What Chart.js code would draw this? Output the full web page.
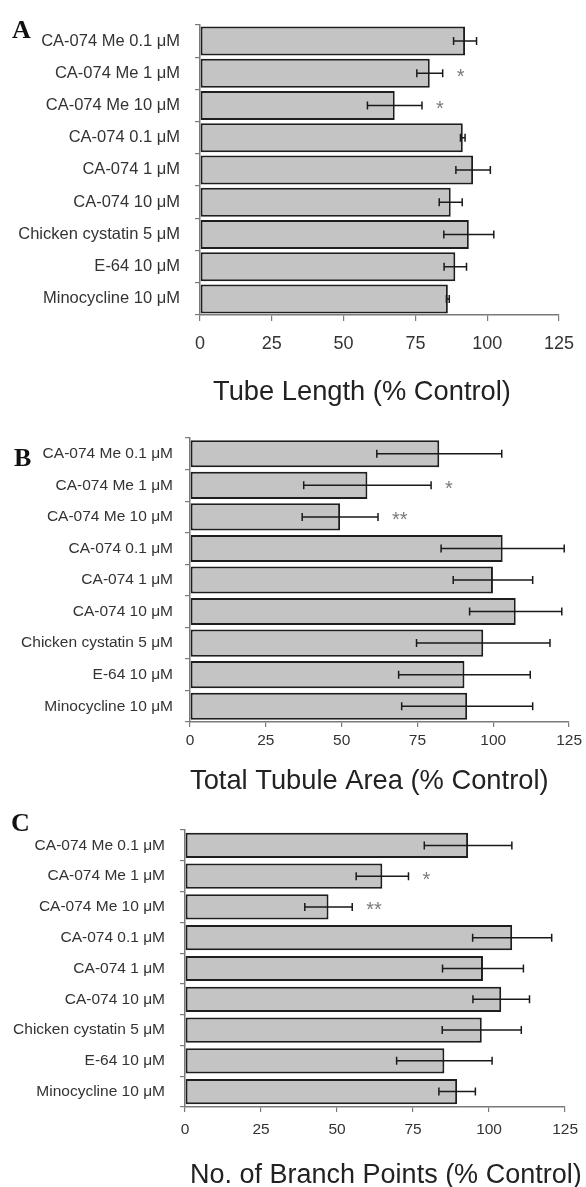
<!DOCTYPE html>
<html>
<head>
<meta charset="utf-8">
<script src="https://cdn.jsdelivr.net/npm/chart.js@4.4.1/dist/chart.umd.min.js"></script>
<style>
  html, body { margin: 0; padding: 0; background: #fff; }
  body { width: 586px; height: 1187px; position: relative; overflow: hidden; }
  canvas { position: absolute; left: 0; }
</style>
</head>
<body>
<canvas id="panelA" width="586" height="415" style="top:0px"></canvas>
<canvas id="panelB" width="586" height="385" style="top:415px"></canvas>
<canvas id="panelC" width="586" height="387" style="top:800px"></canvas>
<script>
const treatments = [
  'CA-074 Me 0.1 μM', 'CA-074 Me 1 μM', 'CA-074 Me 10 μM',
  'CA-074 0.1 μM', 'CA-074 1 μM', 'CA-074 10 μM',
  'Chicken cystatin 5 μM', 'E-64 10 μM', 'Minocycline 10 μM'
];
const xTicks = [0, 25, 50, 75, 100, 125];

// A: tube length
const tubeLength    = [92.3, 80.0, 67.8, 91.5, 95.1, 87.3, 93.6, 88.9, 86.3];
const tubeLengthErr = [4.0, 4.5, 9.5, 0.8, 6.0, 4.0, 8.7, 3.9, 0.5];
const tubeLengthSig = ['', '*', '*', '', '', '', '', '', ''];

// B: total tubule area
const tubuleArea    = [82.2, 58.5, 49.5, 103.1, 99.9, 107.4, 96.7, 90.5, 91.4];
const tubuleAreaErr = [20.6, 21.0, 12.5, 20.3, 13.1, 15.2, 22.0, 21.7, 21.6];
const tubuleAreaSig = ['', '*', '**', '', '', '', '', '', ''];

// C: branch points
const branchPoints    = [93.1, 64.9, 47.2, 107.6, 98.0, 104.0, 97.6, 85.3, 89.5];
const branchPointsErr = [14.4, 8.6, 7.8, 13.0, 13.3, 9.3, 13.0, 15.7, 6.0];
const branchPointsSig = ['', '*', '**', '', '', '', '', '', ''];

const SANS = '"Liberation Sans", Arial, sans-serif';

// barres d'erreur, astérisques, lettre et titre de l'axe
function decor(p) {
  return {
    id: 'decor',
    afterDatasetsDraw(chart) {
      const { ctx } = chart;
      const x = chart.scales.x;
      const ds = chart.data.datasets[0];
      const meta = chart.getDatasetMeta(0);
      ctx.save();
      meta.data.forEach((bar, i) => {
        const v = ds.data[i], e = ds.errorBars[i];
        const x0 = x.getPixelForValue(v - e), x1 = x.getPixelForValue(v + e);
        const y = bar.y;
        ctx.strokeStyle = '#1a1a1a';
        ctx.lineWidth = 1.5;
        ctx.beginPath();
        ctx.moveTo(x0, y); ctx.lineTo(x1, y);
        ctx.moveTo(x0, y - 4); ctx.lineTo(x0, y + 4);
        ctx.moveTo(x1, y - 4); ctx.lineTo(x1, y + 4);
        ctx.stroke();
        if (ds.marks[i]) {
          ctx.fillStyle = '#7a7a7a';
          ctx.font = '20px ' + SANS;
          ctx.textAlign = 'left';
          ctx.textBaseline = 'middle';
          ctx.fillText(ds.marks[i], x1 + 14, y + 4);
        }
      });
      ctx.fillStyle = '#111';
      ctx.textAlign = 'left';
      ctx.textBaseline = 'alphabetic';
      ctx.font = 'bold 26px "Liberation Serif", "Times New Roman", serif';
      ctx.fillText(p.letter, p.letterX, p.letterY);
      ctx.fillStyle = '#222';
      ctx.textBaseline = 'middle';
      ctx.font = p.titleSize + 'px ' + SANS;
      ctx.fillText(p.title, p.titleX, p.titleY);
      ctx.restore();
    }
  };
}

function renderPanel(id, values, errors, marks, p) {
  const el = document.getElementById(id);
  return new Chart(el.getContext('2d'), {
    type: 'bar',
    data: {
      labels: treatments,
      datasets: [{
        data: values,
        errorBars: errors,
        marks: marks,
        backgroundColor: '#c4c4c4',
        borderColor: '#1e1e1e',
        borderWidth: 2,
        borderSkipped: false,
        barPercentage: p.barPct,
        categoryPercentage: 1
      }]
    },
    options: {
      indexAxis: 'y',
      responsive: false,
      animation: false,
      events: [],
      layout: { padding: { top: p.top, right: p.right, left: 0, bottom: 0 } },
      plugins: { legend: { display: false }, tooltip: { enabled: false } },
      scales: {
        x: {
          min: 0, max: 125,
          afterBuildTicks: s => { s.ticks = xTicks.map(v => ({ value: v })); },
          ticks: { font: { family: SANS, size: p.xFont }, color: '#333', padding: p.xPad },
          grid: { drawOnChartArea: false, tickLength: p.xTick, color: '#7a7a7a', lineWidth: 1.2 },
          border: { color: '#7a7a7a', width: 1.5 },
          afterFit: s => { s.height = p.xAxisH; }
        },
        y: {
          offset: true,
          ticks: { font: { family: SANS, size: p.yFont }, color: '#333', padding: p.yPad, autoSkip: false },
          grid: { offset: true, drawOnChartArea: false, tickLength: 5, color: '#7a7a7a', lineWidth: 1.2 },
          border: { color: '#7a7a7a', width: 1.5 },
          afterFit: s => { s.width = p.left; }
        }
      }
    },
    plugins: [decor(p)]
  });
}

document.addEventListener('DOMContentLoaded', () => {
  renderPanel('panelA', tubeLength, tubeLengthErr, tubeLengthSig, {
    letter: 'A', letterX: 12, letterY: 38,
    title: 'Tube Length (% Control)', titleX: 213, titleY: 392, titleSize: 27.3,
    top: 14, right: 26, left: 200, xAxisH: 100,
    xFont: 18, xPad: 12, xTick: 6, yFont: 16.5, yPad: 15, barPct: 0.9
  });
  renderPanel('panelB', tubuleArea, tubuleAreaErr, tubuleAreaSig, {
    letter: 'B', letterX: 14, letterY: 51,
    title: 'Total Tubule Area (% Control)', titleX: 190, titleY: 366, titleSize: 27.3,
    top: 23, right: 14, left: 190, xAxisH: 78,
    xFont: 15.5, xPad: 4, xTick: 5, yFont: 15.5, yPad: 12, barPct: 0.86
  });
  renderPanel('panelC', branchPoints, branchPointsErr, branchPointsSig, {
    letter: 'C', letterX: 11, letterY: 31,
    title: 'No. of Branch Points (% Control)', titleX: 190, titleY: 376, titleSize: 27,
    top: 30, right: 15, left: 185, xAxisH: 80,
    xFont: 15.5, xPad: 8, xTick: 5, yFont: 15.5, yPad: 15, barPct: 0.82
  });
});
</script>
</body>
</html>
